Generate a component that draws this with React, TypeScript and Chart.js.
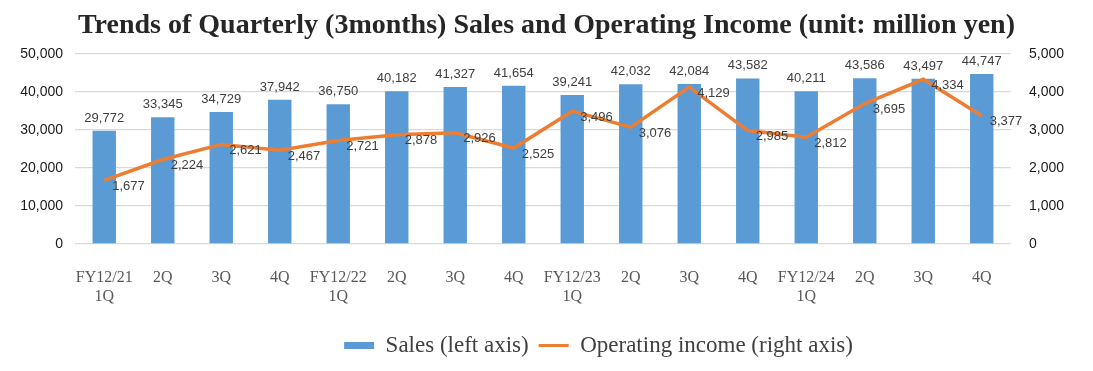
import React, { useEffect, useRef } from 'react';
import { Chart, registerables } from 'chart.js';

Chart.register(...registerables);

const categories: (string | string[])[] = [
  ['FY12/21', '1Q'], '2Q', '3Q', '4Q',
  ['FY12/22', '1Q'], '2Q', '3Q', '4Q',
  ['FY12/23', '1Q'], '2Q', '3Q', '4Q',
  ['FY12/24', '1Q'], '2Q', '3Q', '4Q',
];
const sales = [29772, 33345, 34729, 37942, 36750, 40182, 41327, 41654, 39241, 42032, 42084, 43582, 40211, 43586, 43497, 44747];
const operatingIncome = [1677, 2224, 2621, 2467, 2721, 2878, 2926, 2525, 3496, 3076, 4129, 2985, 2812, 3695, 4334, 3377];
const titleText = 'Trends of Quarterly (3months) Sales and Operating Income (unit: million yen)';
const salesLabel = 'Sales (left axis)';
const incomeLabel = 'Operating income (right axis)';

const BLUE = '#5B9BD5';
const ORANGE = '#ED7D31';
const fmt = (v: number) => v.toLocaleString('en-US');

const dataLabelPlugin = {
  id: 'dataLabels',
  afterLayout(chart: any) {
    const lg = chart.legend;
    if (lg) {
      lg.left += 52;
      lg.right += 52;
    }
  },
  afterDatasetsDraw(chart: any) {
    const ctx = chart.ctx;
    ctx.save();
    ctx.font = '13px "Liberation Sans", Arial, sans-serif';
    ctx.fillStyle = '#404040';
    const barMeta = chart.getDatasetMeta(0);
    ctx.textAlign = 'center';
    ctx.textBaseline = 'bottom';
    barMeta.data.forEach((el: any, i: number) => {
      ctx.fillText(fmt(sales[i]), el.x, el.y - 6);
    });
    const lineMeta = chart.getDatasetMeta(1);
    ctx.textAlign = 'left';
    ctx.textBaseline = 'middle';
    lineMeta.data.forEach((el: any, i: number) => {
      ctx.fillText(fmt(operatingIncome[i]), el.x + 8, el.y + 6);
    });
    ctx.restore();
  },
};

export default function App() {
  const canvasRef = useRef<HTMLCanvasElement | null>(null);

  useEffect(() => {
    if (!canvasRef.current) return;
    const chart = new Chart(canvasRef.current, {
      type: 'bar',
      data: {
        labels: categories,
        datasets: [
          {
            type: 'bar',
            label: salesLabel,
            data: sales,
            backgroundColor: BLUE,
            borderWidth: 0,
            yAxisID: 'y',
            categoryPercentage: 1,
            barPercentage: 0.4,
            order: 2,
          },
          {
            type: 'line',
            label: incomeLabel,
            data: operatingIncome,
            borderColor: ORANGE,
            backgroundColor: ORANGE,
            borderWidth: 3.5,
            pointRadius: 0,
            tension: 0,
            yAxisID: 'y1',
            order: 1,
          },
        ],
      } as any,
      options: {
        animation: false,
        responsive: false,
        maintainAspectRatio: false,
        layout: { padding: { top: 0, bottom: 4, left: 0, right: 0 } },
        plugins: {
          title: {
            display: true,
            text: titleText,
            color: '#262626',
            font: { family: '"Liberation Serif", "Times New Roman", serif', size: 28, weight: 'bold', lineHeight: 1.2 },
            padding: { top: 9, bottom: 11.4 },
          },
          legend: {
            position: 'bottom',
            labels: {
              color: '#404040',
              font: { family: '"Liberation Serif", "Times New Roman", serif', size: 23 },
              usePointStyle: true,
              pointStyleWidth: 30,
              boxHeight: 7,
              padding: 10,
              generateLabels: () => [
                { text: salesLabel, fillStyle: BLUE, strokeStyle: BLUE, lineWidth: 0, pointStyle: 'rect', datasetIndex: 0, fontColor: '#404040' },
                { text: incomeLabel, fillStyle: ORANGE, strokeStyle: ORANGE, lineWidth: 3, pointStyle: 'line', datasetIndex: 1, fontColor: '#404040' },
              ] as any,
            },
          },
          tooltip: { enabled: false },
        },
        scales: {
          x: {
            grid: { display: false },
            border: { display: false },
            ticks: {
              color: '#595959',
              font: { family: '"Liberation Serif", "Times New Roman", serif', size: 16, lineHeight: 1.2 },
              padding: 16,
              maxRotation: 0,
              autoSkip: false,
            },
            afterFit: (scale: any) => { scale.height = 80; },
          },
          y: {
            position: 'left',
            min: 0,
            max: 50000,
            ticks: {
              stepSize: 10000,
              color: '#1a1a1a',
              font: { family: '"Liberation Sans", Arial, sans-serif', size: 14 },
              padding: 12,
              callback: (v: any) => fmt(Number(v)),
            },
            grid: { color: '#D9D9D9', drawTicks: false, lineWidth: 1.3 },
            border: { display: false },
            afterFit: (scale: any) => { scale.width = 75; },
          },
          y1: {
            position: 'right',
            min: 0,
            max: 5000,
            ticks: {
              stepSize: 1000,
              color: '#1a1a1a',
              font: { family: '"Liberation Sans", Arial, sans-serif', size: 14 },
              padding: 18,
              callback: (v: any) => fmt(Number(v)),
            },
            grid: { display: false, drawTicks: false },
            border: { display: false },
            afterFit: (scale: any) => { scale.width = 82; },
          },
        },
      } as any,
      plugins: [dataLabelPlugin],
    });
    return () => chart.destroy();
  }, []);

  return (
    <div style={{ position: 'absolute', left: 0, top: 0, width: 1093, height: 371, background: '#fff' }}>
      <canvas ref={canvasRef} width={1093} height={371} style={{ width: 1093, height: 371, display: 'block' }} />
    </div>
  );
}
